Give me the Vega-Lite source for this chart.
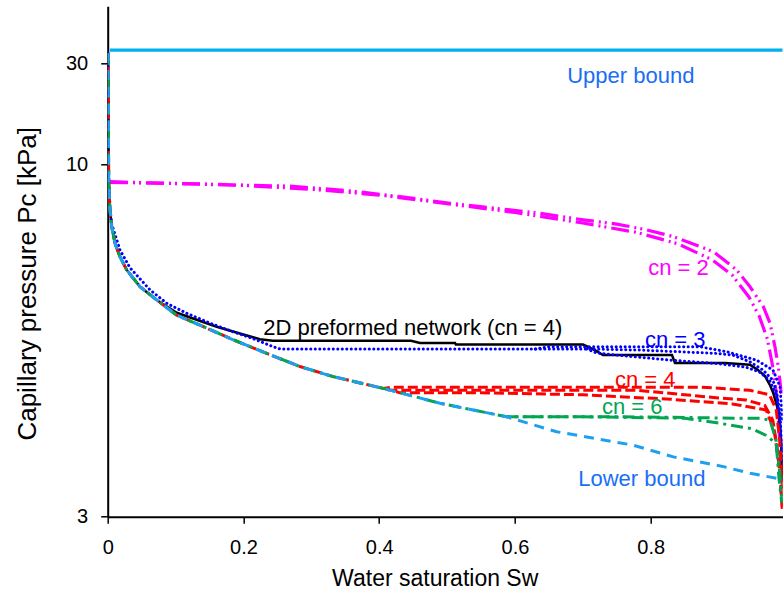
{
  "$schema": "https://vega.github.io/schema/vega-lite/v6.json",
  "width": 675,
  "height": 510.4,
  "autosize": "none",
  "padding": {"left": 107.7, "top": 6.3, "right": 0.3, "bottom": 78.3},
  "background": "white",
  "config": {
    "view": {"stroke": null},
    "font": "Liberation Sans",
    "axis": {"grid": false, "domainColor": "black", "domainWidth": 2, "tickWidth": 1.5, "labelColor": "black", "titleColor": "black", "titleFontWeight": "normal", "labelFont": "Liberation Sans", "titleFont": "Liberation Sans"}
  },
  "datasets": {
    "minor": [
      {"Pc": 4.78}, {"Pc": 6.28}, {"Pc": 7.61}, {"Pc": 8.85}, {"Pc": 13.93}, {"Pc": 18.57}, {"Pc": 23.91}
    ],
    "curves": [
      {"series": "upper", "run": 1, "Sw": 0.003, "Pc": 34.8},
      {"series": "upper", "run": 1, "Sw": 0.9945, "Pc": 34.8},

      {"series": "cn2", "run": 1, "Sw": 0.0034, "Pc": 9.42},
      {"series": "cn2", "run": 1, "Sw": 0.0623, "Pc": 9.38},
      {"series": "cn2", "run": 1, "Sw": 0.136, "Pc": 9.35},
      {"series": "cn2", "run": 1, "Sw": 0.1949, "Pc": 9.31},
      {"series": "cn2", "run": 1, "Sw": 0.2686, "Pc": 9.28},
      {"series": "cn2", "run": 1, "Sw": 0.357, "Pc": 9.13},
      {"series": "cn2", "run": 1, "Sw": 0.4306, "Pc": 8.95},
      {"series": "cn2", "run": 1, "Sw": 0.5042, "Pc": 8.75},
      {"series": "cn2", "run": 1, "Sw": 0.5631, "Pc": 8.62},
      {"series": "cn2", "run": 1, "Sw": 0.632, "Pc": 8.47},
      {"series": "cn2", "run": 1, "Sw": 0.7007, "Pc": 8.27},
      {"series": "cn2", "run": 1, "Sw": 0.75, "Pc": 8.15},
      {"series": "cn2", "run": 1, "Sw": 0.7941, "Pc": 7.99},
      {"series": "cn2", "run": 1, "Sw": 0.8329, "Pc": 7.81},
      {"series": "cn2", "run": 1, "Sw": 0.8922, "Pc": 7.42},
      {"series": "cn2", "run": 1, "Sw": 0.9267, "Pc": 6.97},
      {"series": "cn2", "run": 1, "Sw": 0.9463, "Pc": 6.58},
      {"series": "cn2", "run": 1, "Sw": 0.9659, "Pc": 6.15},
      {"series": "cn2", "run": 1, "Sw": 0.9758, "Pc": 5.81},
      {"series": "cn2", "run": 1, "Sw": 0.9831, "Pc": 5.36},
      {"series": "cn2", "run": 1, "Sw": 0.988, "Pc": 5.01},
      {"series": "cn2", "run": 1, "Sw": 0.993, "Pc": 4.52},
      {"series": "cn2", "run": 2, "Sw": 0.0034, "Pc": 9.40},
      {"series": "cn2", "run": 2, "Sw": 0.10, "Pc": 9.36},
      {"series": "cn2", "run": 2, "Sw": 0.20, "Pc": 9.30},
      {"series": "cn2", "run": 2, "Sw": 0.30, "Pc": 9.18},
      {"series": "cn2", "run": 2, "Sw": 0.40, "Pc": 9.00},
      {"series": "cn2", "run": 2, "Sw": 0.50, "Pc": 8.74},
      {"series": "cn2", "run": 2, "Sw": 0.60, "Pc": 8.48},
      {"series": "cn2", "run": 2, "Sw": 0.70, "Pc": 8.18},
      {"series": "cn2", "run": 2, "Sw": 0.78, "Pc": 7.92},
      {"series": "cn2", "run": 2, "Sw": 0.84, "Pc": 7.62},
      {"series": "cn2", "run": 2, "Sw": 0.89, "Pc": 7.22},
      {"series": "cn2", "run": 2, "Sw": 0.92, "Pc": 6.85},
      {"series": "cn2", "run": 2, "Sw": 0.945, "Pc": 6.35},
      {"series": "cn2", "run": 2, "Sw": 0.96, "Pc": 5.95},
      {"series": "cn2", "run": 2, "Sw": 0.972, "Pc": 5.5},
      {"series": "cn2", "run": 2, "Sw": 0.98, "Pc": 5.0},
      {"series": "cn2", "run": 2, "Sw": 0.986, "Pc": 4.5},
      {"series": "cn2", "run": 2, "Sw": 0.99, "Pc": 3.9},
      {"series": "cn2", "run": 2, "Sw": 0.994, "Pc": 3.3},

      {"series": "net2d", "run": 1, "Sw": 0.0004, "Pc": 33.7},
      {"series": "net2d", "run": 1, "Sw": 0.0009, "Pc": 20.2},
      {"series": "net2d", "run": 1, "Sw": 0.0012, "Pc": 11.68},
      {"series": "net2d", "run": 1, "Sw": 0.0016, "Pc": 9.38},
      {"series": "net2d", "run": 1, "Sw": 0.0034, "Pc": 8.55},
      {"series": "net2d", "run": 1, "Sw": 0.0059, "Pc": 8.08},
      {"series": "net2d", "run": 1, "Sw": 0.0108, "Pc": 7.63},
      {"series": "net2d", "run": 1, "Sw": 0.0181, "Pc": 7.29},
      {"series": "net2d", "run": 1, "Sw": 0.028, "Pc": 6.97},
      {"series": "net2d", "run": 1, "Sw": 0.0476, "Pc": 6.58},
      {"series": "net2d", "run": 1, "Sw": 0.0722, "Pc": 6.29},
      {"series": "net2d", "run": 1, "Sw": 0.1017, "Pc": 6.02},
      {"series": "net2d", "run": 1, "Sw": 0.1606, "Pc": 5.74},
      {"series": "net2d", "run": 1, "Sw": 0.1998, "Pc": 5.59},
      {"series": "net2d", "run": 1, "Sw": 0.2244, "Pc": 5.50},
      {"series": "net2d", "run": 1, "Sw": 0.2435, "Pc": 5.47},
      {"series": "net2d", "run": 1, "Sw": 0.4469, "Pc": 5.47},
      {"series": "net2d", "run": 1, "Sw": 0.4601, "Pc": 5.43},
      {"series": "net2d", "run": 1, "Sw": 0.5117, "Pc": 5.43},
      {"series": "net2d", "run": 1, "Sw": 0.513, "Pc": 5.40},
      {"series": "net2d", "run": 1, "Sw": 0.7003, "Pc": 5.40},
      {"series": "net2d", "run": 1, "Sw": 0.7179, "Pc": 5.30},
      {"series": "net2d", "run": 1, "Sw": 0.7297, "Pc": 5.21},
      {"series": "net2d", "run": 1, "Sw": 0.8314, "Pc": 5.21},
      {"series": "net2d", "run": 1, "Sw": 0.8358, "Pc": 5.07},
      {"series": "net2d", "run": 1, "Sw": 0.9095, "Pc": 5.07},
      {"series": "net2d", "run": 1, "Sw": 0.9463, "Pc": 5.04},
      {"series": "net2d", "run": 1, "Sw": 0.9581, "Pc": 4.95},
      {"series": "net2d", "run": 1, "Sw": 0.9684, "Pc": 4.85},
      {"series": "net2d", "run": 1, "Sw": 0.9758, "Pc": 4.70},
      {"series": "net2d", "run": 1, "Sw": 0.9802, "Pc": 4.59},
      {"series": "net2d", "run": 1, "Sw": 0.9876, "Pc": 4.32},
      {"series": "net2d", "run": 1, "Sw": 0.992, "Pc": 3.9},
      {"series": "net2d", "run": 1, "Sw": 0.994, "Pc": 3.4},

      {"series": "cn3", "run": 1, "Sw": 0.0004, "Pc": 33.7},
      {"series": "cn3", "run": 1, "Sw": 0.0009, "Pc": 20.2},
      {"series": "cn3", "run": 1, "Sw": 0.0012, "Pc": 11.68},
      {"series": "cn3", "run": 1, "Sw": 0.0016, "Pc": 9.38},
      {"series": "cn3", "run": 1, "Sw": 0.0034, "Pc": 8.6},
      {"series": "cn3", "run": 1, "Sw": 0.0059, "Pc": 8.15},
      {"series": "cn3", "run": 1, "Sw": 0.0181, "Pc": 7.46},
      {"series": "cn3", "run": 1, "Sw": 0.0329, "Pc": 7.02},
      {"series": "cn3", "run": 1, "Sw": 0.0623, "Pc": 6.51},
      {"series": "cn3", "run": 1, "Sw": 0.0869, "Pc": 6.22},
      {"series": "cn3", "run": 1, "Sw": 0.1164, "Pc": 6.01},
      {"series": "cn3", "run": 1, "Sw": 0.1507, "Pc": 5.81},
      {"series": "cn3", "run": 1, "Sw": 0.185, "Pc": 5.64},
      {"series": "cn3", "run": 1, "Sw": 0.2145, "Pc": 5.51},
      {"series": "cn3", "run": 1, "Sw": 0.244, "Pc": 5.36},
      {"series": "cn3", "run": 1, "Sw": 0.2539, "Pc": 5.32},
      {"series": "cn3", "run": 1, "Sw": 0.7057, "Pc": 5.32},
      {"series": "cn3", "run": 1, "Sw": 0.7843, "Pc": 5.30},
      {"series": "cn3", "run": 1, "Sw": 0.8972, "Pc": 5.24},
      {"series": "cn3", "run": 1, "Sw": 0.9213, "Pc": 5.21},
      {"series": "cn3", "run": 1, "Sw": 0.9463, "Pc": 5.09},
      {"series": "cn3", "run": 1, "Sw": 0.9655, "Pc": 4.95},
      {"series": "cn3", "run": 1, "Sw": 0.9802, "Pc": 4.78},
      {"series": "cn3", "run": 1, "Sw": 0.9856, "Pc": 4.58},
      {"series": "cn3", "run": 1, "Sw": 0.9905, "Pc": 4.27},
      {"series": "cn3", "run": 1, "Sw": 0.9934, "Pc": 3.77},
      {"series": "cn3", "run": 2, "Sw": 0.7057, "Pc": 5.32},
      {"series": "cn3", "run": 2, "Sw": 0.72, "Pc": 5.25},
      {"series": "cn3", "run": 2, "Sw": 0.75, "Pc": 5.21},
      {"series": "cn3", "run": 2, "Sw": 0.83, "Pc": 5.12},
      {"series": "cn3", "run": 2, "Sw": 0.90, "Pc": 5.06},
      {"series": "cn3", "run": 2, "Sw": 0.94, "Pc": 5.0},
      {"series": "cn3", "run": 2, "Sw": 0.96, "Pc": 4.92},
      {"series": "cn3", "run": 2, "Sw": 0.975, "Pc": 4.78},
      {"series": "cn3", "run": 2, "Sw": 0.985, "Pc": 4.55},
      {"series": "cn3", "run": 2, "Sw": 0.99, "Pc": 4.2},
      {"series": "cn3", "run": 2, "Sw": 0.994, "Pc": 3.6},
      {"series": "cn3", "run": 3, "Sw": 0.63, "Pc": 5.32},
      {"series": "cn3", "run": 3, "Sw": 0.65, "Pc": 5.36},
      {"series": "cn3", "run": 3, "Sw": 0.8727, "Pc": 5.36},
      {"series": "cn3", "run": 3, "Sw": 0.912, "Pc": 5.27},
      {"series": "cn3", "run": 3, "Sw": 0.9562, "Pc": 5.12},
      {"series": "cn3", "run": 3, "Sw": 0.9802, "Pc": 4.95},
      {"series": "cn3", "run": 3, "Sw": 0.9905, "Pc": 4.68},
      {"series": "cn3", "run": 3, "Sw": 0.9942, "Pc": 4.17},

      {"series": "cn4", "run": 1, "Sw": 0.0004, "Pc": 33.7},
      {"series": "cn4", "run": 1, "Sw": 0.0009, "Pc": 20.2},
      {"series": "cn4", "run": 1, "Sw": 0.0012, "Pc": 11.68},
      {"series": "cn4", "run": 1, "Sw": 0.0016, "Pc": 9.38},
      {"series": "cn4", "run": 1, "Sw": 0.0034, "Pc": 8.55},
      {"series": "cn4", "run": 1, "Sw": 0.0059, "Pc": 8.08},
      {"series": "cn4", "run": 1, "Sw": 0.0108, "Pc": 7.63},
      {"series": "cn4", "run": 1, "Sw": 0.0181, "Pc": 7.29},
      {"series": "cn4", "run": 1, "Sw": 0.028, "Pc": 6.97},
      {"series": "cn4", "run": 1, "Sw": 0.0476, "Pc": 6.58},
      {"series": "cn4", "run": 1, "Sw": 0.0722, "Pc": 6.29},
      {"series": "cn4", "run": 1, "Sw": 0.1017, "Pc": 5.97},
      {"series": "cn4", "run": 1, "Sw": 0.136, "Pc": 5.77},
      {"series": "cn4", "run": 1, "Sw": 0.185, "Pc": 5.49},
      {"series": "cn4", "run": 1, "Sw": 0.2343, "Pc": 5.24},
      {"series": "cn4", "run": 1, "Sw": 0.2833, "Pc": 5.01},
      {"series": "cn4", "run": 1, "Sw": 0.3324, "Pc": 4.84},
      {"series": "cn4", "run": 1, "Sw": 0.406, "Pc": 4.65},
      {"series": "cn4", "run": 1, "Sw": 0.42, "Pc": 4.67},
      {"series": "cn4", "run": 1, "Sw": 0.60, "Pc": 4.67},
      {"series": "cn4", "run": 1, "Sw": 0.873, "Pc": 4.67},
      {"series": "cn4", "run": 1, "Sw": 0.946, "Pc": 4.62},
      {"series": "cn4", "run": 1, "Sw": 0.975, "Pc": 4.55},
      {"series": "cn4", "run": 1, "Sw": 0.985, "Pc": 4.32},
      {"series": "cn4", "run": 1, "Sw": 0.99, "Pc": 3.9},
      {"series": "cn4", "run": 1, "Sw": 0.994, "Pc": 3.3},
      {"series": "cn4", "run": 2, "Sw": 0.412, "Pc": 4.63},
      {"series": "cn4", "run": 2, "Sw": 0.42, "Pc": 4.62},
      {"series": "cn4", "run": 2, "Sw": 0.78, "Pc": 4.62},
      {"series": "cn4", "run": 2, "Sw": 0.85, "Pc": 4.55},
      {"series": "cn4", "run": 2, "Sw": 0.90, "Pc": 4.50},
      {"series": "cn4", "run": 2, "Sw": 0.94, "Pc": 4.47},
      {"series": "cn4", "run": 2, "Sw": 0.968, "Pc": 4.39},
      {"series": "cn4", "run": 2, "Sw": 0.98, "Pc": 4.17},
      {"series": "cn4", "run": 2, "Sw": 0.988, "Pc": 3.7},
      {"series": "cn4", "run": 2, "Sw": 0.994, "Pc": 3.1},
      {"series": "cn4", "run": 3, "Sw": 0.425, "Pc": 4.60},
      {"series": "cn4", "run": 3, "Sw": 0.43, "Pc": 4.58},
      {"series": "cn4", "run": 3, "Sw": 0.55, "Pc": 4.58},
      {"series": "cn4", "run": 3, "Sw": 0.70, "Pc": 4.55},
      {"series": "cn4", "run": 3, "Sw": 0.83, "Pc": 4.48},
      {"series": "cn4", "run": 3, "Sw": 0.92, "Pc": 4.41},
      {"series": "cn4", "run": 3, "Sw": 0.97, "Pc": 4.32},
      {"series": "cn4", "run": 3, "Sw": 0.982, "Pc": 4.03},
      {"series": "cn4", "run": 3, "Sw": 0.99, "Pc": 3.52},
      {"series": "cn4", "run": 3, "Sw": 0.994, "Pc": 3.07},

      {"series": "cn6", "run": 1, "Sw": 0.0004, "Pc": 33.7},
      {"series": "cn6", "run": 1, "Sw": 0.0009, "Pc": 20.2},
      {"series": "cn6", "run": 1, "Sw": 0.0012, "Pc": 11.68},
      {"series": "cn6", "run": 1, "Sw": 0.0016, "Pc": 9.38},
      {"series": "cn6", "run": 1, "Sw": 0.0034, "Pc": 8.55},
      {"series": "cn6", "run": 1, "Sw": 0.0059, "Pc": 8.08},
      {"series": "cn6", "run": 1, "Sw": 0.0108, "Pc": 7.63},
      {"series": "cn6", "run": 1, "Sw": 0.0181, "Pc": 7.29},
      {"series": "cn6", "run": 1, "Sw": 0.028, "Pc": 6.97},
      {"series": "cn6", "run": 1, "Sw": 0.0476, "Pc": 6.58},
      {"series": "cn6", "run": 1, "Sw": 0.0722, "Pc": 6.29},
      {"series": "cn6", "run": 1, "Sw": 0.1017, "Pc": 5.97},
      {"series": "cn6", "run": 1, "Sw": 0.136, "Pc": 5.77},
      {"series": "cn6", "run": 1, "Sw": 0.185, "Pc": 5.49},
      {"series": "cn6", "run": 1, "Sw": 0.2343, "Pc": 5.24},
      {"series": "cn6", "run": 1, "Sw": 0.2833, "Pc": 5.01},
      {"series": "cn6", "run": 1, "Sw": 0.3324, "Pc": 4.84},
      {"series": "cn6", "run": 1, "Sw": 0.406, "Pc": 4.65},
      {"series": "cn6", "run": 1, "Sw": 0.4896, "Pc": 4.42},
      {"series": "cn6", "run": 1, "Sw": 0.5878, "Pc": 4.22},
      {"series": "cn6", "run": 1, "Sw": 0.65, "Pc": 4.22},
      {"series": "cn6", "run": 1, "Sw": 0.75, "Pc": 4.22},
      {"series": "cn6", "run": 1, "Sw": 0.85, "Pc": 4.21},
      {"series": "cn6", "run": 1, "Sw": 0.93, "Pc": 4.20},
      {"series": "cn6", "run": 1, "Sw": 0.961, "Pc": 4.20},
      {"series": "cn6", "run": 1, "Sw": 0.9758, "Pc": 4.17},
      {"series": "cn6", "run": 1, "Sw": 0.9846, "Pc": 3.9},
      {"series": "cn6", "run": 1, "Sw": 0.989, "Pc": 3.42},
      {"series": "cn6", "run": 1, "Sw": 0.993, "Pc": 3.15},
      {"series": "cn6", "run": 2, "Sw": 0.5878, "Pc": 4.22},
      {"series": "cn6", "run": 2, "Sw": 0.70, "Pc": 4.22},
      {"series": "cn6", "run": 2, "Sw": 0.85, "Pc": 4.20},
      {"series": "cn6", "run": 2, "Sw": 0.90, "Pc": 4.13},
      {"series": "cn6", "run": 2, "Sw": 0.95, "Pc": 4.05},
      {"series": "cn6", "run": 2, "Sw": 0.97, "Pc": 3.96},
      {"series": "cn6", "run": 2, "Sw": 0.985, "Pc": 3.85},
      {"series": "cn6", "run": 2, "Sw": 0.99, "Pc": 3.5},
      {"series": "cn6", "run": 2, "Sw": 0.994, "Pc": 3.15},

      {"series": "lower", "run": 1, "Sw": 0.0004, "Pc": 33.7},
      {"series": "lower", "run": 1, "Sw": 0.0009, "Pc": 20.2},
      {"series": "lower", "run": 1, "Sw": 0.0012, "Pc": 11.68},
      {"series": "lower", "run": 1, "Sw": 0.0016, "Pc": 9.38},
      {"series": "lower", "run": 1, "Sw": 0.0034, "Pc": 8.55},
      {"series": "lower", "run": 1, "Sw": 0.0059, "Pc": 8.08},
      {"series": "lower", "run": 1, "Sw": 0.0108, "Pc": 7.63},
      {"series": "lower", "run": 1, "Sw": 0.0181, "Pc": 7.29},
      {"series": "lower", "run": 1, "Sw": 0.028, "Pc": 6.97},
      {"series": "lower", "run": 1, "Sw": 0.0476, "Pc": 6.58},
      {"series": "lower", "run": 1, "Sw": 0.0722, "Pc": 6.29},
      {"series": "lower", "run": 1, "Sw": 0.1017, "Pc": 5.97},
      {"series": "lower", "run": 1, "Sw": 0.136, "Pc": 5.77},
      {"series": "lower", "run": 1, "Sw": 0.185, "Pc": 5.49},
      {"series": "lower", "run": 1, "Sw": 0.2343, "Pc": 5.24},
      {"series": "lower", "run": 1, "Sw": 0.2833, "Pc": 5.01},
      {"series": "lower", "run": 1, "Sw": 0.3324, "Pc": 4.84},
      {"series": "lower", "run": 1, "Sw": 0.406, "Pc": 4.65},
      {"series": "lower", "run": 1, "Sw": 0.4896, "Pc": 4.42},
      {"series": "lower", "run": 1, "Sw": 0.5878, "Pc": 4.22},
      {"series": "lower", "run": 1, "Sw": 0.6615, "Pc": 4.01},
      {"series": "lower", "run": 1, "Sw": 0.7744, "Pc": 3.83},
      {"series": "lower", "run": 1, "Sw": 0.8333, "Pc": 3.68},
      {"series": "lower", "run": 1, "Sw": 0.907, "Pc": 3.56},
      {"series": "lower", "run": 1, "Sw": 0.9463, "Pc": 3.48},
      {"series": "lower", "run": 1, "Sw": 0.9856, "Pc": 3.42},
      {"series": "lower", "run": 1, "Sw": 0.993, "Pc": 3.36}
    ],
    "labels": [
      {"label": "Upper bound", "Sw": 0.677, "Pc": 26.2},
      {"label": "cn = 2", "Sw": 0.7964, "Pc": 7.02},
      {"label": "2D preformed network (cn = 4)", "Sw": 0.2293, "Pc": 5.71},
      {"label": "cn = 3", "Sw": 0.7916, "Pc": 5.49},
      {"label": "cn = 4", "Sw": 0.7474, "Pc": 4.79},
      {"label": "cn = 6", "Sw": 0.7283, "Pc": 4.36},
      {"label": "Lower bound", "Sw": 0.6932, "Pc": 3.41}
    ]
  },
  "encoding": {
    "x": {
      "field": "Sw", "type": "quantitative",
      "scale": {"domain": [0, 0.9945], "nice": false, "zero": false},
      "axis": {
        "values": [0, 0.2, 0.4, 0.6, 0.8],
        "labelExpr": "datum.value == 0 ? '0' : format(datum.value, '.1f')",
        "tickSize": 6.5, "tickColor": "#000000", "labelFontSize": 20, "labelPadding": 14, "labelFlush": false,
        "title": "Water saturation Sw", "titleFontSize": 23,
        "titleX": 327, "titleY": 62, "titleBaseline": "middle", "titleAlign": "center"
      }
    },
    "y": {
      "field": "Pc", "type": "quantitative",
      "scale": {"type": "log", "domain": [3, 10, 30, 56.2], "range": [510.4, 157.9, 57.4, 0], "nice": false, "zero": false},
      "axis": {
        "values": [3, 10, 30],
        "labelExpr": "format(datum.value, 'd')",
        "tickSize": 7, "tickColor": "#000000", "labelFontSize": 20, "labelPadding": 13, "labelOverlap": false, "labelFlush": false,
        "title": "Capillary pressure Pc [kPa]", "titleFontSize": 26,
        "titleX": -80, "titleY": 277, "titleBaseline": "middle", "titleAlign": "center", "titleAngle": -90
      }
    }
  },
  "layer": [
    {
      "mark": {"type": "rule", "color": "black", "strokeWidth": 1.5},
      "encoding": {"y": {"datum": 56.2}, "x": {"datum": -0.0085}, "x2": {"datum": 0.9945}}
    },
    {
      "data": {"name": "minor"},
      "mark": {"type": "rule", "color": "black", "strokeWidth": 1.5},
      "encoding": {"x": {"datum": -0.0103}, "x2": {"datum": 0}}
    },
    {
      "data": {"name": "curves"},
      "transform": [{"filter": "datum.series == 'upper'"}],
      "mark": {"type": "line", "color": "#00B0F0", "strokeWidth": 3.2, "clip": true},
      "encoding": {"detail": {"field": "run"}}
    },
    {
      "data": {"name": "curves"},
      "transform": [{"filter": "datum.series == 'cn2'"}],
      "mark": {"type": "line", "color": "#FF00FF", "strokeWidth": 3.2, "strokeDash": [18, 5, 2, 4, 2, 5], "clip": true},
      "encoding": {"detail": {"field": "run"}}
    },
    {
      "data": {"name": "curves"},
      "transform": [{"filter": "datum.series == 'net2d'"}],
      "mark": {"type": "line", "color": "black", "strokeWidth": 2.5, "clip": true},
      "encoding": {"detail": {"field": "run"}}
    },
    {
      "data": {"name": "curves"},
      "transform": [{"filter": "datum.series == 'cn3'"}],
      "mark": {"type": "line", "color": "#0000FF", "strokeWidth": 3, "strokeDash": [0.1, 4.4], "strokeCap": "round", "clip": true},
      "encoding": {"detail": {"field": "run"}}
    },
    {
      "data": {"name": "curves"},
      "transform": [{"filter": "datum.series == 'cn4'"}],
      "mark": {"type": "line", "color": "#FF0000", "strokeWidth": 3, "strokeDash": [10, 4], "clip": true},
      "encoding": {"detail": {"field": "run"}}
    },
    {
      "data": {"name": "curves"},
      "transform": [{"filter": "datum.series == 'cn6'"}],
      "mark": {"type": "line", "color": "#00A651", "strokeWidth": 3, "strokeDash": [12, 5, 3, 5], "clip": true},
      "encoding": {"detail": {"field": "run"}}
    },
    {
      "data": {"name": "curves"},
      "transform": [{"filter": "datum.series == 'lower'"}],
      "mark": {"type": "line", "color": "#1EA0F0", "strokeWidth": 3, "strokeDash": [10, 7], "clip": true},
      "encoding": {"detail": {"field": "run"}}
    },
    {
      "data": {"name": "labels"},
      "mark": {"type": "text", "align": "left", "baseline": "middle", "fontSize": 22, "font": "Liberation Sans"},
      "encoding": {
        "text": {"field": "label"},
        "color": {
          "field": "label", "type": "nominal", "legend": null,
          "scale": {
            "domain": ["Upper bound", "cn = 2", "2D preformed network (cn = 4)", "cn = 3", "cn = 4", "cn = 6", "Lower bound"],
            "range": ["#1A6EF5", "#FF00FF", "black", "#0000FF", "#FF0000", "#00A651", "#1A6EF5"]
          }
        }
      }
    }
  ]
}
